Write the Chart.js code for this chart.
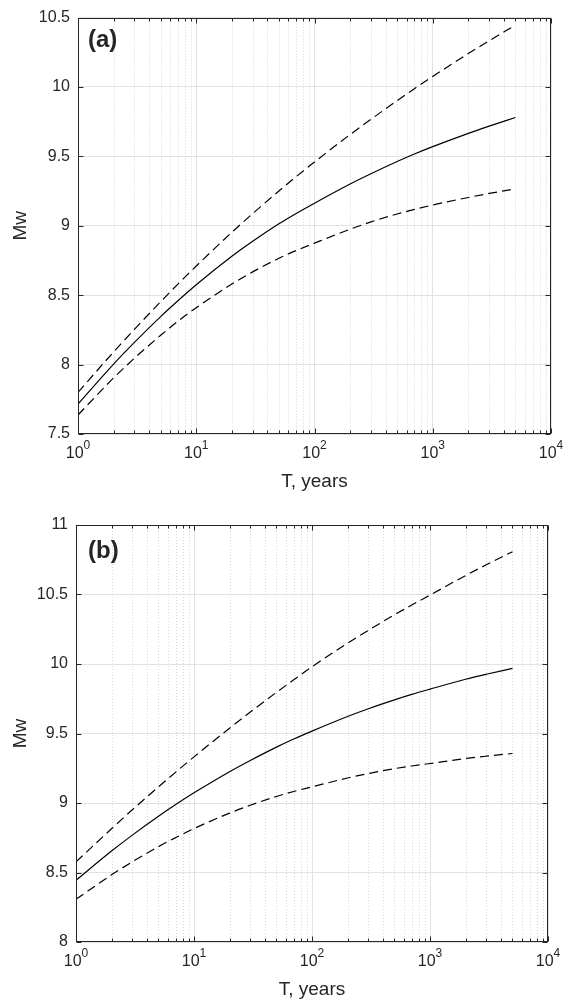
<!DOCTYPE html>
<html>
<head>
<meta charset="utf-8">
<script src="https://cdn.jsdelivr.net/npm/chart.js@4/dist/chart.umd.min.js"></script>
<style>
  html, body { margin: 0; padding: 0; background: #fff; }
  #wrap { position: relative; width: 566px; height: 1004px; }
  #wrap canvas { position: absolute; left: 0; }
</style>
</head>
<body>
<div id="wrap">
  <canvas id="chartA" width="566" height="502" style="top:0"></canvas>
  <canvas id="chartB" width="566" height="502" style="top:502px"></canvas>
</div>
<script>
// return period T (years)
const T = [1, 2, 3, 5, 7, 10, 20, 30, 50, 70, 100, 200, 300, 500, 700, 1000, 2000, 3000, 5000];

// panel (a)
const aMid = [7.716, 8.004, 8.160, 8.346, 8.460, 8.575, 8.780, 8.888, 9.014, 9.089, 9.163, 9.301, 9.375, 9.463, 9.517, 9.570, 9.666, 9.718, 9.780];
const aUp  = [7.800, 8.091, 8.254, 8.453, 8.580, 8.710, 8.953, 9.088, 9.251, 9.354, 9.460, 9.657, 9.767, 9.902, 9.988, 10.076, 10.241, 10.333, 10.446];
const aLow = [7.637, 7.904, 8.046, 8.211, 8.312, 8.410, 8.580, 8.668, 8.766, 8.822, 8.875, 8.975, 9.028, 9.085, 9.118, 9.150, 9.204, 9.233, 9.266];

// panel (b)
const bMid = [8.444, 8.654, 8.769, 8.905, 8.989, 9.073, 9.225, 9.306, 9.402, 9.460, 9.517, 9.622, 9.678, 9.742, 9.781, 9.819, 9.890, 9.926, 9.968];
const bUp  = [8.576, 8.815, 8.951, 9.116, 9.222, 9.332, 9.538, 9.654, 9.796, 9.886, 9.980, 10.149, 10.242, 10.354, 10.424, 10.496, 10.636, 10.714, 10.808];
const bLow = [8.307, 8.483, 8.577, 8.686, 8.751, 8.816, 8.927, 8.984, 9.047, 9.083, 9.116, 9.180, 9.212, 9.247, 9.266, 9.284, 9.320, 9.337, 9.356];

// x ticks: decades + minor 2..9
const xTicks = [];
for (let e = 0; e < 4; e++) for (let k = 1; k <= 9; k++) xTicks.push(k * Math.pow(10, e));
xTicks.push(10000);
const decades = [0, 1, 2, 3, 4];

const INK = '#262626';
const FONT = '"Liberation Sans", Arial, sans-serif';

const isDecade = v => Math.abs(Math.log10(v) - Math.round(Math.log10(v))) < 1e-6;

const deco = {
  id: 'deco',
  beforeDatasetsDraw(chart) {
    const { ctx, chartArea: a, scales: { x } } = chart;
    ctx.save();
    ctx.strokeStyle = '#d6d6d6';
    ctx.lineWidth = 1;
    ctx.setLineDash([1, 2]);
    x.ticks.forEach(t => {
      if (isDecade(t.value)) return;
      const px = Math.round(x.getPixelForValue(t.value)) + 0.5;
      ctx.beginPath();
      ctx.moveTo(px, a.top);
      ctx.lineTo(px, a.bottom);
      ctx.stroke();
    });
    ctx.restore();
  },
  afterDatasetsDraw(chart) {
    const { ctx, chartArea: a, scales: { x, y } } = chart;
    const L = Math.round(a.left) + 0.5, R = Math.round(a.right) - 0.5;
    const Tp = Math.round(a.top) + 0.5, B = Math.round(a.bottom) - 0.5;
    ctx.save();
    ctx.strokeStyle = INK;
    ctx.lineWidth = 1;
    ctx.beginPath();
    x.ticks.forEach(t => {
      const px = Math.round(x.getPixelForValue(t.value)) + 0.5;
      const len = isDecade(t.value) ? 5 : 3;
      ctx.moveTo(px, B); ctx.lineTo(px, B - len);
      ctx.moveTo(px, Tp); ctx.lineTo(px, Tp + len);
    });
    y.ticks.forEach(t => {
      const py = Math.round(y.getPixelForValue(t.value)) + 0.5;
      ctx.moveTo(L, py); ctx.lineTo(L + 5, py);
      ctx.moveTo(R, py); ctx.lineTo(R - 5, py);
    });
    ctx.stroke();
    ctx.strokeRect(L, Tp, R - L, B - Tp);
    ctx.restore();
  },
  afterDraw(chart, args, opts) {
    const { ctx, chartArea: a, scales: { x } } = chart;
    ctx.save();
    ctx.fillStyle = INK;
    ctx.textBaseline = 'alphabetic';
    // decade labels 10^n
    decades.forEach(e => {
      const px = x.getPixelForValue(Math.pow(10, e));
      ctx.font = '16px ' + FONT;
      const wb = ctx.measureText('10').width;
      ctx.font = '12px ' + FONT;
      const ws = ctx.measureText(String(e)).width;
      const x0 = px - (wb + ws) / 2;
      ctx.font = '16px ' + FONT;
      ctx.textAlign = 'left';
      ctx.fillText('10', x0, a.bottom + 24);
      ctx.font = '12px ' + FONT;
      ctx.fillText(String(e), x0 + wb, a.bottom + 15);
    });
    // axis titles
    ctx.font = '19px ' + FONT;
    ctx.textAlign = 'center';
    ctx.fillText('T, years', (a.left + a.right) / 2, a.bottom + 53);
    ctx.save();
    ctx.translate(26, (a.top + a.bottom) / 2);
    ctx.rotate(-Math.PI / 2);
    ctx.fillText('Mw', 0, 0);
    ctx.restore();
    // panel label
    ctx.font = 'bold 24px ' + FONT;
    ctx.textAlign = 'left';
    ctx.fillText(opts.panel, opts.px, opts.py);
    ctx.restore();
  }
};

function makeChart(id, mid, up, low, yMin, yMax, pad, panel, panelY) {
  const pts = arr => T.map((t, i) => ({ x: t, y: arr[i] }));
  const line = (arr, dash) => ({
    data: pts(arr),
    borderColor: '#000',
    borderWidth: 1.2,
    borderDash: dash,
    pointRadius: 0,
    cubicInterpolationMode: 'monotone',
    fill: false
  });
  return new Chart(document.getElementById(id), {
    type: 'line',
    data: { datasets: [line(up, [9, 5]), line(mid, []), line(low, [9, 5])] },
    options: {
      responsive: false,
      animation: false,
      devicePixelRatio: 1,
      layout: { padding: { left: 0, right: pad.right, top: pad.top, bottom: 0 } },
      plugins: {
        legend: { display: false },
        tooltip: { enabled: false },
        deco: { panel: panel, px: 88, py: panelY }
      },
      scales: {
        x: {
          type: 'logarithmic',
          min: 1,
          max: 10000,
          afterBuildTicks: s => { s.ticks = xTicks.map(v => ({ value: v })); },
          afterFit: s => { s.height = pad.xh; },
          ticks: { display: false },
          grid: {
            color: c => (c.tick && isDecade(c.tick.value)) ? '#e2e2e2' : 'rgba(0,0,0,0)',
            drawTicks: false
          },
          border: { display: false }
        },
        y: {
          min: yMin,
          max: yMax,
          afterFit: s => { s.width = pad.left; },
          ticks: {
            stepSize: 0.5,
            padding: 8,
            color: INK,
            font: { size: 16, family: FONT },
            callback: v => String(Math.round(v * 10) / 10)
          },
          grid: { color: '#e2e2e2', drawTicks: false },
          border: { display: false }
        }
      }
    },
    plugins: [deco]
  });
}

makeChart('chartA', aMid, aUp, aLow, 7.5, 10.5, { left: 78, right: 15, top: 17, xh: 68 }, '(a)', 47);
makeChart('chartB', bMid, bUp, bLow, 8, 11, { left: 76, right: 18, top: 23, xh: 62 }, '(b)', 56);
</script>
</body>
</html>
